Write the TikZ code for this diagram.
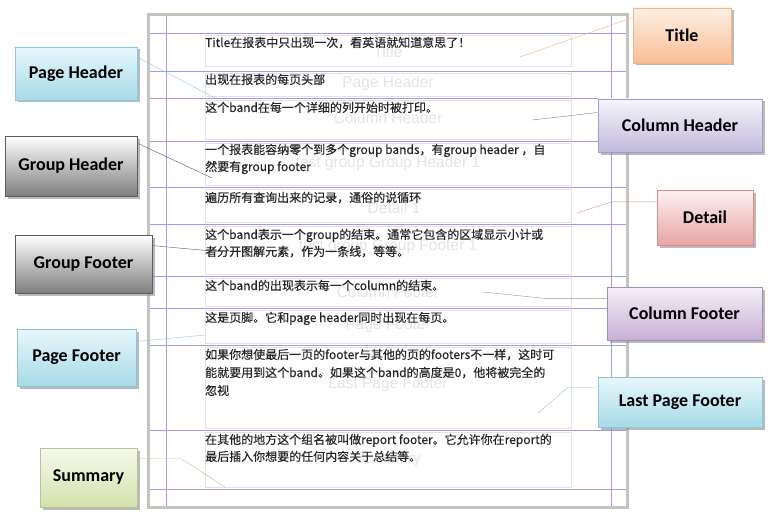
\documentclass[tikz,border=0pt]{standalone}
\usepackage{fontspec}
\setmainfont{Liberation Sans}
\newfontfamily\cjk[FakeBold=0.3]{Noto Sans CJK SC}
\newfontfamily\lbl{Carlito}
\usetikzlibrary{shadows}

\definecolor{bandblue}{HTML}{9C9CF2}
\definecolor{framegray}{HTML}{C4C4BC}
\definecolor{notegray}{HTML}{262626}
\definecolor{peachline}{HTML}{F2B48C}
\definecolor{peachtop}{HTML}{FDEFE4}
\definecolor{peachbot}{HTML}{F8BE94}
\definecolor{lilacline}{HTML}{A49CC8}
\definecolor{lilactop}{HTML}{F6F4FB}
\definecolor{lilacbot}{HTML}{C2BADC}
\definecolor{roseline}{HTML}{D88C8C}
\definecolor{rosetop}{HTML}{FDF2F2}
\definecolor{rosebot}{HTML}{E8A4A4}
\definecolor{plumline}{HTML}{A48CB8}
\definecolor{plumtop}{HTML}{F6F0F8}
\definecolor{plumbot}{HTML}{C6B0D4}
\definecolor{skyline}{HTML}{8CC8D8}
\definecolor{skytop}{HTML}{E8F7FB}
\definecolor{skybot}{HTML}{A6DAE8}
\definecolor{greyline}{HTML}{5C5C5C}
\definecolor{greytop}{HTML}{FFFFFF}
\definecolor{greybot}{HTML}{7E7E7E}
\definecolor{oliveline}{HTML}{B8C494}
\definecolor{olivetop}{HTML}{F6F9EC}
\definecolor{olivebot}{HTML}{D2E2AC}

\tikzset{
	bandline/.style={color=bandblue, line width=0.8pt},
	bandbox/.style={color=black!11, line width=0.6pt},
	ghost/.style={text=black!10, inner sep=0pt, font=\fontsize{15.5}{17}\selectfont},
	note/.style={anchor=base west, inner sep=0pt, text=notegray, font=\cjk\fontsize{12}{18}\selectfont},
	tag/.style={rectangle, inner sep=0pt, line width=0.6pt, text=black,
		font=\lbl\bfseries\fontsize{18}{20}\selectfont,
		drop shadow={shadow xshift=2.5pt, shadow yshift=-2.5pt, fill=black!45, opacity=0.6}},
	peachtag/.style={tag, draw=peachline, top color=peachtop, bottom color=peachbot},
	lilactag/.style={tag, draw=lilacline, top color=lilactop, bottom color=lilacbot},
	rosetag/.style={tag, draw=roseline, top color=rosetop, bottom color=rosebot},
	plumtag/.style={tag, draw=plumline, top color=plumtop, bottom color=plumbot},
	skytag/.style={tag, draw=skyline, top color=skytop, bottom color=skybot},
	greytag/.style={tag, draw=greyline, top color=greytop, bottom color=greybot},
	olivetag/.style={tag, draw=oliveline, top color=olivetop, bottom color=olivebot}
}

\begin{document}
\begin{tikzpicture}[x=1pt,y=-1pt]
	\useasboundingbox (0,0) rectangle (773,516);
	\fill[white] (148,15) rectangle (627,507);
	\foreach \y in {33,71,98,141,187,224,276,308,345,430,489}
		\draw[bandline] (148,\y) -- (627,\y);
	\draw[bandline] (166,15) -- (166,507);
	\draw[bandline] (611,15) -- (611,507);
	\draw[bandbox] (205,35) rectangle (571,66);
	\foreach \a/\b in {71/98,98/141,141/187,187/224,224/276,276/308,308/345,345/430,430/489}
		\draw[bandbox] (205,\a+2) rectangle (571,\b-2);
	\draw[color=framegray, line width=3pt] (148,15) rectangle (627,507);

	\node[ghost] (gtitle) at (388,52) {Title};
	\node[ghost] (gpagehdr) at (388,83) {Page Header};
	\node[ghost] (gcolhdr) at (388,118) {Column Header};
	\node[ghost] (ggrphdr) at (388,163) {test group Group Header 1};
	\node[ghost] (gdetail) at (394,208) {Detail 1};
	\node[ghost] (ggrpftr) at (388,247) {test group Group Footer 1};
	\node[ghost] (gcolftr) at (388,292) {Column Footer};
	\node[ghost] (gpageftr) at (388,326) {Page Footer};
	\node[ghost] (glastftr) at (388,385) {Last Page Footer};
	\node[ghost] (gsummary) at (388,460) {Summary};

	\node[note] (ntitle) at (205,47) {Title在报表中只出现一次，看英语就知道意思了！};
	\node[note] (npagehdr) at (205,84) {出现在报表的每页头部};
	\node[note] (ncolhdr) at (205,112) {这个band在每一个详细的列开始时被打印。};
	\node[note] (ngrphdrA) at (205,154) {一个报表能容纳零个到多个group bands，有group header ，自};
	\node[note] (ngrphdrB) at (205,171) {然要有group footer};
	\node[note] (ndetail) at (205,202) {遍历所有查询出来的记录，通俗的说循环};
	\node[note] (ngrpftrA) at (205,239) {这个band表示一个group的结束。通常它包含的区域显示小计或};
	\node[note] (ngrpftrB) at (205,256) {者分开图解元素，作为一条线，等等。};
	\node[note] (ncolftr) at (205,290) {这个band的出现表示每一个column的结束。};
	\node[note] (npageftr) at (205,322) {这是页脚。它和page header同时出现在每页。};
	\node[note] (nlastftrA) at (205,359) {如果你想使最后一页的footer与其他的页的footers不一样，这时可};
	\node[note] (nlastftrB) at (205,377) {能就要用到这个band。如果这个band的高度是0，他将被完全的};
	\node[note] (nlastftrC) at (205,395) {忽视};
	\node[note] (nsummaryA) at (205,444) {在其他的地方这个组名被叫做report footer。它允许你在report的};
	\node[note] (nsummaryB) at (205,461) {最后插入你想要的任何内容关于总结等。};

	\node[peachtag, minimum width=98pt, minimum height=55pt] (title) at (682,35.5) {Title};
	\node[lilactag, minimum width=164pt, minimum height=53pt] (colhdr) at (680,125.5) {Column Header};
	\node[rosetag, minimum width=96pt, minimum height=55pt] (detail) at (705,217.5) {Detail};
	\node[plumtag, minimum width=155pt, minimum height=53pt] (colftr) at (684.5,313.5) {Column Footer};
	\node[skytag, minimum width=164pt, minimum height=50pt] (lastftr) at (680,402) {Last Page Footer};
	\node[skytag, minimum width=122pt, minimum height=53pt] (pagehdr) at (76,73.5) {Page Header};
	\node[greytag, minimum width=132pt, minimum height=60pt] (grphdr) at (71,166) {Group Header};
	\node[greytag, minimum width=137pt, minimum height=58pt] (grpftr) at (83.5,264) {Group Footer};
	\node[skytag, minimum width=119pt, minimum height=57pt] (pageftr) at (76.5,357.5) {Page Footer};
	\node[olivetag, minimum width=97pt, minimum height=59pt] (summary) at (88.5,477.5) {Summary};

	\coordinate (ptitle) at (520,57);
	\coordinate (ppagehdr) at (215,98);
	\coordinate (pcolhdr) at (532,120);
	\coordinate (pgrphdr) at (212,178);
	\coordinate (pdetail) at (577,213);
	\coordinate (pgrpftr) at (222,252);
	\coordinate (pcolftr) at (483,292);
	\coordinate (ppageftr) at (205,335);
	\coordinate (plastftr) at (538,413);
	\coordinate (psummary) at (225,487);

	\draw[color=peachline] (title.160) -- (ptitle);
	\draw[color=skyline] (pagehdr.15) -- (ppagehdr);
	\draw[color=lilacline!80!black] (colhdr.171) -- (pcolhdr);
	\draw[color=greyline] (grphdr.19) -- (pgrphdr);
	\draw[color=roseline] (detail.162) -- ++(-45,0) -- (pdetail);
	\draw[color=greyline] (grpftr.15) -- (pgrpftr);
	\draw[color=plumline] (colftr.169) -- ++(-62,0) -- (pcolftr);
	\draw[color=skyline] (pageftr.15) -- (ppageftr);
	\draw[color=skyline] (lastftr.170) -- ++(-30,0) -- (plastftr);
	\draw[color=oliveline] (summary.21) -- ++(44,0) -- (psummary);
\end{tikzpicture}
\end{document}
